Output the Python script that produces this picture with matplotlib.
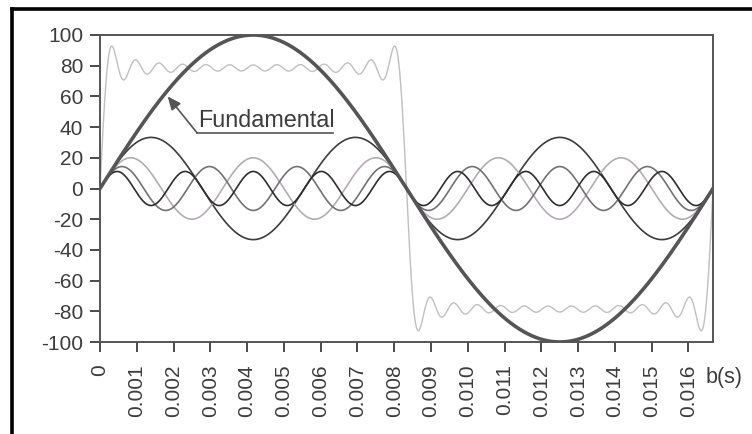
import numpy as np
import matplotlib
matplotlib.use("Agg")
import matplotlib.pyplot as plt
from matplotlib.lines import Line2D

# Data
fundamental_freq_hz = 60.0
period_s = 1 / 60
# harmonic orders and amplitudes (fundamental, then shown harmonics)
shown_orders = [1, 3, 5, 7, 9]
shown_amplitudes = [100.0, 33.3, 20.0, 14.3, 11.1]
# harmonic content of the square-like sum curve (odd orders up to 25)
sum_orders = [1, 3, 5, 7, 9, 11, 13, 15, 17, 19, 21, 23, 25]
sum_amplitudes = [100.0, 33.3, 20.0, 14.3, 11.1, 9.1, 7.7, 6.7, 5.9, 5.3, 4.8, 4.3, 4.0]
x_ticks = [0, 0.001, 0.002, 0.003, 0.004, 0.005, 0.006, 0.007, 0.008,
           0.009, 0.010, 0.011, 0.012, 0.013, 0.014, 0.015, 0.016]
x_tick_labels = ["0", "0.001", "0.002", "0.003", "0.004", "0.005", "0.006",
                 "0.007", "0.008", "0.009", "0.010", "0.011", "0.012", "0.013",
                 "0.014", "0.015", "0.016"]
y_ticks = [100, 80, 60, 40, 20, 0, -20, -40, -60, -80, -100]
y_tick_labels = ["100", "80", "60", "40", "20", "0", "-20", "-40", "-60", "-80", "-100"]

plt.rcParams['font.family'] = ['Liberation Sans', 'DejaVu Sans']

fig = plt.figure(figsize=(7.52, 4.34), dpi=100)
ax = fig.add_axes([100/752, 1-342/434, 613/752, 307/434])

t = np.linspace(0, period_s, 4000)
w = 2 * np.pi * fundamental_freq_hz

square = sum(a * np.sin(n * w * t) for n, a in zip(sum_orders, sum_amplitudes))
ax.plot(t, square, color="#c2bec2", lw=1.0, zorder=1)

harm_colors = {3: "#3c3c3c", 5: "#b4acb4", 7: "#747074", 9: "#2e2e2e"}
for n, a in zip(shown_orders[1:], shown_amplitudes[1:]):
    ax.plot(t, a * np.sin(n * w * t), color=harm_colors[n], lw=1.2, zorder=2)

ax.plot(t, shown_amplitudes[0] * np.sin(w * t), color="#555555", lw=2.6, zorder=3)

ax.set_xlim(0, period_s)
ax.set_ylim(-100, 100)
ax.set_xticks(x_ticks)
ax.set_xticklabels(x_tick_labels, rotation=90)
ax.set_yticks(y_ticks)
ax.set_yticklabels(y_tick_labels)
ax.tick_params(axis='both', colors="#3c3c3c", labelsize=15, length=7, width=1.3,
               direction='out')
ax.tick_params(axis='x', pad=9)
ax.tick_params(axis='y', pad=5)
for s in ax.spines.values():
    s.set_color("#555555")
    s.set_linewidth(1.4)

# Annotation "Fundamental"
ax.annotate("", xy=(0.00184, 60), xytext=(0.00264, 36.2),
            arrowprops=dict(arrowstyle="-|>,head_length=0.8,head_width=0.35",
                            color="#555555", lw=1.2, shrinkA=0, shrinkB=0),
            zorder=5)
ax.plot([0.00264, 0.00634], [36.2, 36.2], color="#555555", lw=1.2, zorder=5)
ax.text(0.00266, 37.0, "Fundamental", fontsize=16.8, color="#3c3c3c",
        ha='left', va='bottom', zorder=5)

fig.text(706/752, 1-378/434, "b(s)", fontsize=15.5, color="#3c3c3c",
         ha='left', va='center')

# outer thick frame (top and left visible)
fig.add_artist(Line2D([12/752, 1.0], [1-9/434, 1-9/434], transform=fig.transFigure,
                      color="black", lw=2.6))
fig.add_artist(Line2D([12/752, 12/752], [0, 1-9/434], transform=fig.transFigure,
                      color="black", lw=2.6))

fig.savefig("out.png", dpi=100)
